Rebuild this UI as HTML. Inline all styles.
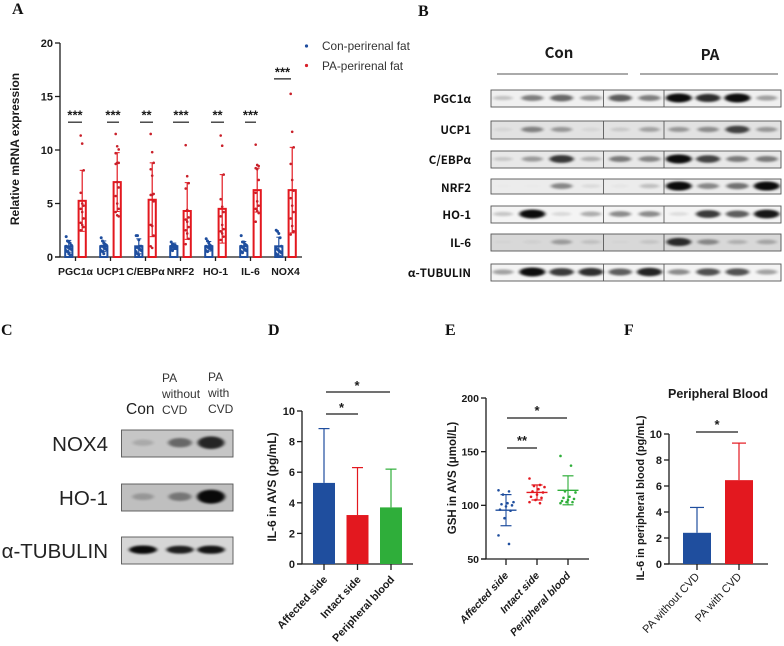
<!DOCTYPE html>
<html>
<head>
<meta charset="utf-8">
<title>Multi-panel figure</title>
<style>
html,body{margin:0;padding:0;background:#fff;width:784px;height:646px;overflow:hidden}
svg{display:block;filter:blur(.35px)}
text{font-family:"Liberation Sans","Noto Sans CJK KR",sans-serif;fill:#1a1a1a}
.letter{font-family:"Liberation Serif",serif;font-weight:bold;font-size:16px;fill:#111}
.blotlabel{font-family:"Noto Sans CJK KR","Liberation Sans",sans-serif;font-weight:700;font-size:11.5px;text-anchor:end;fill:#111}
.cl{fill:#222}
</style>
</head>
<body>
<svg id="fig" xmlns="http://www.w3.org/2000/svg" width="784" height="646" viewBox="0 0 784 646">
<defs>
<filter id="bandBlur" x="-50%" y="-100%" width="200%" height="300%"><feGaussianBlur stdDeviation="1.8 1"/></filter>
</defs>
<rect width="784" height="646" fill="#fff"/>

<text class="letter" x="12" y="14">A</text>
<text class="letter" x="418" y="16">B</text>
<text class="letter" x="1" y="335">C</text>
<text class="letter" x="268" y="335">D</text>
<text class="letter" x="445" y="335">E</text>
<text class="letter" x="624" y="335">F</text>

<text x="16" y="149" transform="rotate(-90 16 149)" text-anchor="middle" dominant-baseline="middle" font-size="12" font-weight="bold">Relative mRNA expression</text>
<circle cx="306.5" cy="46" r="1.6" fill="#1f4e9e"/>
<text x="322" y="50" font-size="11.8" style="fill:#333">Con-perirenal fat</text>
<circle cx="306.5" cy="65.5" r="1.6" fill="#d8202a"/>
<text x="322" y="70" font-size="11.8" style="fill:#333">PA-perirenal fat</text>

<text x="559" y="58" text-anchor="middle" font-size="15" font-weight="700" style="font-family:'Noto Sans CJK KR',sans-serif">Con</text>
<text x="710" y="60" text-anchor="middle" font-size="15" font-weight="700" style="font-family:'Noto Sans CJK KR',sans-serif">PA</text>
<line x1="497" y1="74" x2="628" y2="74" stroke="#555" stroke-width="1"/>
<line x1="640" y1="74" x2="778" y2="74" stroke="#555" stroke-width="1"/>

<text x="126" y="414" font-size="15.5" class="cl">Con</text>
<text font-size="12" class="cl" style="fill:#333"><tspan x="162" y="382">PA</tspan><tspan x="162" y="398">without</tspan><tspan x="162" y="414">CVD</tspan></text>
<text font-size="12" class="cl" style="fill:#333"><tspan x="208" y="381">PA</tspan><tspan x="208" y="397">with</tspan><tspan x="208" y="413">CVD</tspan></text>

<text x="273" y="487" transform="rotate(-90 273 487)" text-anchor="middle" dominant-baseline="middle" font-size="12" font-weight="bold">IL-6 in AVS (pg/mL)</text>
<text x="453" y="478" transform="rotate(-90 453 478)" text-anchor="middle" dominant-baseline="middle" font-size="11.5" font-weight="bold">GSH in AVS (μmol/L)</text>
<text x="641" y="498" transform="rotate(-90 641 498)" text-anchor="middle" dominant-baseline="middle" font-size="11" font-weight="bold">IL-6 in peripheral blood (pg/mL)</text>
<text x="718" y="398" text-anchor="middle" font-size="12.5" font-weight="bold">Peripheral Blood</text>
</svg>

<script>
// ---------- Panel A data ----------
const aCategories = ['PGC1α','UCP1','C/EBPα','NRF2','HO-1','IL-6','NOX4'];
const aTicks = [0,5,10,15,20];
const aConMeans = [1,1,1,1,1,1,1];
const aConSD = [0.55,0.5,0.7,0.3,0.45,0.45,0.85];
const aPaMeans = [5.25,7.0,5.35,4.3,4.5,6.25,6.25];
const aPaSD = [2.85,2.75,3.45,2.65,3.2,2.05,4.0];
const aSig = ['***','***','**','***','**','***','***'];
const aSigLevel = [12.6,12.6,12.6,12.6,12.6,12.6,16.65];
const aConPoints = [
 [1.9,1.5,1.4,1.3,1.1,1.0,0.9,0.9,0.8,0.7,0.6,0.5,0.3,0.2],
 [1.8,1.5,1.3,1.2,1.1,1.0,1.0,0.9,0.8,0.7,0.6,0.5,0.3],
 [2.0,2.0,1.6,1.0,1.0,0.9,0.9,0.8,0.7,0.6,0.5,0.3,0.2],
 [1.4,1.2,1.1,1.1,1.0,1.0,0.9,0.9,0.8,0.8,0.7,0.6],
 [1.7,1.5,1.3,1.1,1.0,1.0,0.9,0.9,0.8,0.7,0.6,0.5],
 [2.0,1.4,1.4,1.2,1.1,1.0,0.9,0.8,0.7,0.6,0.5,0.4],
 [2.5,2.4,2.2,1.8,1.0,0.9,0.7,0.6,0.5,0.4,0.3,0.2]
];
const aPaPoints = [
 [11.35,10.6,8.1,6.0,5.0,4.8,4.5,4.2,3.6,3.2,3.0,2.8,2.5],
 [11.5,10.35,10.05,9.7,8.8,8.8,8.7,7.0,6.5,5.7,5.0,4.5,4.2,3.9,3.8],
 [11.5,9.8,8.8,8.2,7.6,5.9,5.8,5.8,5.2,3.0,2.9,2.0,1.0,0.85],
 [10.45,7.55,6.9,6.4,4.4,3.7,3.5,3.3,2.8,2.5,2.2,1.7,1.2],
 [11.35,10.4,7.7,5.4,4.7,4.2,3.8,3.0,2.6,2.4,2.2,1.9,1.6],
 [10.5,8.6,8.5,8.3,8.2,7.2,6.0,5.2,4.8,4.5,4.3,4.1,3.3],
 [15.25,11.7,10.25,8.7,7.2,6.2,5.5,4.8,4.2,3.6,2.9,2.4,2.1]
];

// ---------- Panel D data ----------
const dCategories = ['Affected side','Intact side','Peripheral blood'];
const dMeans = [5.3,3.2,3.7];
const dUpper = [8.85,6.3,6.2];
const dTicks = [0,2,4,6,8,10];

// ---------- Panel E data ----------
const eCategories = ['Affected side','Intact side','Peripheral blood'];
const eMeans = [95.5,112,114];
const eSD = [14.5,7,13.5];
const eTicks = [50,100,150,200];
const ePoints = [
 [114,113,110,103,102,101,100,99,96,95,88,72,64],
 [125,119,118,117,115,113,112,110,108,107,105,103,102],
 [146,137,113,112,108,107,106,105,104,103,103,102]
];

// ---------- Panel F data ----------
const fCategories = ['PA without CVD','PA with CVD'];
const fMeans = [2.4,6.45];
const fUpper = [4.35,9.3];
const fTicks = [0,2,4,6,8,10];

// ---------- Blot band intensities ----------
const bRowLabels = ['PGC1α','UCP1','C/EBPα','NRF2','HO-1','IL-6','α-TUBULIN'];
const bRowBands = [
 [.2,.5,.6,.4,.65,.5,1,.85,1,.35],
 [.06,.45,.35,.06,.12,.3,.35,.4,.75,.35],
 [.15,.35,.8,.25,.5,.45,1,.75,.5,.5],
 [.01,.01,.45,.08,.03,.2,1,.45,.55,1],
 [.2,1,.12,.3,.45,.45,.1,.8,.65,.95],
 [.02,.04,.3,.12,.02,.1,.85,.4,.2,.25],
 [.35,1,.8,.85,.65,.9,.45,.7,.7,.35]
];
const bRowShades = ['#f0f0f0','#e2e2e2','#e8e8e8','#ececec','#f4f4f4','#d8d8d8','#f4f4f4'];
const cRowLabels = ['NOX4','HO-1','α-TUBULIN'];
const cRowBands = [[.15,.5,.85],[.22,.4,1],[1,.9,.95]];
const cRowShades = ['#c6c6c6','#bfbfbf','#d6d6d6'];

const svg = document.getElementById('fig');
const NS = 'http://www.w3.org/2000/svg';
const BLUE = '#1f4e9e', RED = '#e3181f', GREEN = '#2fae3a', INK = '#1c1c1c';

function mk(tag, attrs, text) {
  const n = document.createElementNS(NS, tag);
  for (const k in attrs) n.setAttribute(k, attrs[k]);
  if (text !== undefined) n.textContent = text;
  svg.appendChild(n);
  return n;
}
function axisLine(x1, y1, x2, y2, name, w) {
  const l = mk('line', {x1, y1, x2, y2, stroke: INK, 'stroke-width': w || 1.3});
  
  
  return l;
}
function colorLine(x1, y1, x2, y2, color, w, name) {
  const l = mk('line', {x1, y1, x2, y2, stroke: color, 'stroke-width': w});
  
  
  return l;
}
function yAxis(x, ticks, yf, size, name) {
  ticks.forEach(t => {
    axisLine(x - 5, yf(t), x, yf(t), name + '-tick');
    const lab = mk('text', {x: x - 7, y: yf(t) + size * 0.36, 'text-anchor': 'end', 'font-size': size, 'font-weight': 'bold'}, t);
    
    
  });
}
function sigMark(x1, x2, y, label, tx, ty, name) {
  axisLine(x1, y, x2, y, name + '-bracket', 1.2);
  const s = mk('text', {x: tx, y: ty, 'text-anchor': 'middle', 'font-size': 13, 'font-weight': 'bold'}, label);
  
  
}
function rotatedLabel(x, y, text, size, weight, style, name) {
  const t = mk('text', {x, y, transform: 'rotate(-47 ' + x + ' ' + y + ')', 'text-anchor': 'end', 'font-size': size, 'font-weight': weight, 'font-style': style}, text);
  
  
}

// ---------- Panel A ----------
const yA = v => 257 - v * 10.7;
const xA = i => 75.5 + 35 * i;
axisLine(60, yA(20), 60, yA(0), 'a-y-axis');
axisLine(55, yA(0), 302, yA(0), 'a-x-axis');
yAxis(60, aTicks, yA, 11, 'a-y');
const aSigX = [[68,82],[107,119],[140,153],[173,189],[211,224],[245,256],[274,291]];
aCategories.forEach((c, i) => {
  const cx = xA(i);
  axisLine(cx, 257, cx, 261, 'a-x-tick');
  const lab = mk('text', {x: cx, y: 275, 'text-anchor': 'middle', 'font-size': 10.5, 'font-weight': 'bold'}, c);
  
  

  const bx = cx - 6.7, rx = cx + 6.7;
  const conBar = mk('rect', {x: bx - 3.6, y: yA(aConMeans[i]), width: 7.2, height: 257 - yA(aConMeans[i]), fill: '#fff', stroke: BLUE, 'stroke-width': 2});
  
  
  const paBar = mk('rect', {x: rx - 3.6, y: yA(aPaMeans[i]), width: 7.2, height: 257 - yA(aPaMeans[i]), fill: '#fff', stroke: RED, 'stroke-width': 2});
  
  

  const cTop = aConMeans[i] + aConSD[i], cLow = aConMeans[i] - aConSD[i];
  colorLine(bx, yA(cTop), bx, yA(cLow), BLUE, 1.2, 'error-bar-con');
  colorLine(bx - 2.5, yA(cTop), bx + 2.5, yA(cTop), BLUE, 1, 'error-cap-con');
  colorLine(bx - 2.5, yA(cLow), bx + 2.5, yA(cLow), BLUE, 1, 'error-cap-con');
  const pTop = aPaMeans[i] + aPaSD[i], pLow = aPaMeans[i] - aPaSD[i];
  colorLine(rx, yA(pTop), rx, yA(pLow), RED, 1.2, 'error-bar-pa');
  colorLine(rx - 2.5, yA(pTop), rx + 2.5, yA(pTop), RED, 1, 'error-cap-pa');
  colorLine(rx - 2.5, yA(pLow), rx + 2.5, yA(pLow), RED, 1, 'error-cap-pa');

  aConPoints[i].forEach((v, j) => {
    const p = mk('circle', {cx: bx + ((j % 5) - 2) * 1.3, cy: yA(v), r: 1.5, fill: BLUE});
    
    
  });
  aPaPoints[i].forEach((v, j) => {
    const p = mk('circle', {cx: rx + ((j % 3) - 1) * 1.5, cy: yA(v), r: 1.3, fill: '#c9202a'});
    
    
  });
  const sy = yA(aSigLevel[i]);
  sigMark(aSigX[i][0], aSigX[i][1], sy, aSig[i], (aSigX[i][0] + aSigX[i][1]) / 2, sy - 2.5, 'a-sig-' + c);
});

// ---------- Blots ----------
function blotRow(x, y, w, h, shade, lanes, vals, rxBase, ryBase, dividers, name) {
  const base = mk('rect', {x, y, width: w, height: h, fill: shade});
  
  
  const clipId = 'clip-' + name;
  const cp = document.createElementNS(NS, 'clipPath');
  cp.setAttribute('id', clipId);
  const cr = document.createElementNS(NS, 'rect');
  cr.setAttribute('x', x); cr.setAttribute('y', y);
  cr.setAttribute('width', w); cr.setAttribute('height', h);
  cp.appendChild(cr);
  svg.appendChild(cp);
  const g = mk('g', {'clip-path': 'url(#' + clipId + ')'});
  
  
  vals.forEach((v, i) => {
    const e = document.createElementNS(NS, 'ellipse');
    e.setAttribute('cx', lanes(i));
    e.setAttribute('cy', y + h * 0.47);
    e.setAttribute('rx', rxBase * (0.7 + 0.3 * v));
    e.setAttribute('ry', ryBase * (0.35 + 0.65 * v));
    e.setAttribute('fill', '#000');
    e.setAttribute('opacity', Math.min(1, v * 0.95));
    e.setAttribute('filter', 'url(#bandBlur)');
    
    
    g.appendChild(e);
  });
  dividers.forEach(dx => {
    const d = mk('line', {x1: dx, y1: y, x2: dx, y2: y + h, stroke: '#333', 'stroke-width': .7});
    
    
  });
  const frame = mk('rect', {x, y, width: w, height: h, fill: 'none', stroke: '#555', 'stroke-width': .9});
  
  
}
const bLane = i => 503 + i * 29.3;
const bRowTop = [90, 121, 151, 179, 206, 234, 264];
const bRowHeight = [17, 18, 17, 15, 17, 17, 17];
bRowLabels.forEach((lab, i) => {
  const rowY = bRowTop[i];
  blotRow(491, rowY, 290, bRowHeight[i], bRowShades[i], bLane, bRowBands[i], 13, 4.5, [603.5, 664], 'b-blot-' + i);
  const t = mk('text', {x: 471, y: rowY + 13, class: 'blotlabel'}, lab);
  
  
});
const cLanes = [143, 180, 211];
const cLane = i => cLanes[i];
const cRowY = [430, 484, 537];
const cRyBase = [7, 7, 4.2];
cRowLabels.forEach((lab, i) => {
  blotRow(121.5, cRowY[i], 111.5, 27, cRowShades[i], cLane, cRowBands[i], 14, cRyBase[i], [], 'c-blot-' + i);
  const t = mk('text', {x: 108, y: cRowY[i] + 21, 'text-anchor': 'end', 'font-size': 20.5, class: 'cl'}, lab);
  
  
});

// ---------- Panel D ----------
const yD = v => 564 - v * 15.3;
const xD = i => 324 + i * 33.5;
const dColors = [BLUE, RED, GREEN];
axisLine(302, yD(10), 302, yD(0), 'd-y-axis');
axisLine(297, yD(0), 413, yD(0), 'd-x-axis');
yAxis(302, dTicks, yD, 11, 'd-y');
dCategories.forEach((c, i) => {
  const x = xD(i);
  const b = mk('rect', {x: x - 11, y: yD(dMeans[i]), width: 22, height: 564 - yD(dMeans[i]), fill: dColors[i]});
  
  
  colorLine(x, yD(dUpper[i]), x, yD(dMeans[i]), dColors[i], 1.2, 'error-bar-d');
  colorLine(x - 5.5, yD(dUpper[i]), x + 5.5, yD(dUpper[i]), dColors[i], 1.2, 'error-cap-d');
  axisLine(x, 564, x, 570, 'd-x-tick');
  rotatedLabel(x + 4, 580, c, 10.8, 'bold', 'normal', 'd-x-tick-label');
});
sigMark(326, 390, 392, '*', 357, 390, 'd-sig-wide');
sigMark(326, 358, 414, '*', 341.5, 412, 'd-sig-narrow');

// ---------- Panel E ----------
const yE = v => 559 - (v - 50) * 1.0733;
const xE = i => 506 + i * 31;
axisLine(486, yE(200), 486, yE(50), 'e-y-axis');
axisLine(481, yE(50), 589, yE(50), 'e-x-axis');
yAxis(486, eTicks, yE, 10.5, 'e-y');
eCategories.forEach((c, i) => {
  const x = xE(i), col = dColors[i];
  ePoints[i].forEach((v, j) => {
    const p = mk('circle', {cx: x + ((j * 7) % 11 - 5) * 1.5, cy: yE(v), r: 1.3, fill: col});
    
    
  });
  colorLine(x - 10.5, yE(eMeans[i]), x + 10.5, yE(eMeans[i]), col, 1.3, 'mean-line-e');
  const top = eMeans[i] + eSD[i], low = eMeans[i] - eSD[i];
  colorLine(x, yE(top), x, yE(low), col, 1.1, 'error-bar-e');
  colorLine(x - 5.5, yE(top), x + 5.5, yE(top), col, 1.2, 'error-cap-e');
  colorLine(x - 5.5, yE(low), x + 5.5, yE(low), col, 1.2, 'error-cap-e');
  axisLine(x, 559, x, 565, 'e-x-tick');
  rotatedLabel(x + 3, 576, c, 10.5, 'bold', 'italic', 'e-x-tick-label');
});
sigMark(507, 567, 418, '*', 537, 415, 'e-sig-wide');
sigMark(507, 537, 448, '**', 522, 445, 'e-sig-narrow');

// ---------- Panel F ----------
const yF = v => 564 - v * 13;
const xF = i => 697 + i * 42;
const fColors = [BLUE, RED];
axisLine(669, yF(10), 669, yF(0), 'f-y-axis');
axisLine(664, yF(0), 768, yF(0), 'f-x-axis');
yAxis(669, fTicks, yF, 11, 'f-y');
fCategories.forEach((c, i) => {
  const x = xF(i);
  const b = mk('rect', {x: x - 14, y: yF(fMeans[i]), width: 28, height: 564 - yF(fMeans[i]), fill: fColors[i]});
  
  
  colorLine(x, yF(fUpper[i]), x, yF(fMeans[i]), fColors[i], 1.2, 'error-bar-f');
  colorLine(x - 7, yF(fUpper[i]), x + 7, yF(fUpper[i]), fColors[i], 1.2, 'error-cap-f');
  axisLine(x, 564, x, 570, 'f-x-tick');
  rotatedLabel(x + 3, 577, c, 11, 'normal', 'normal', 'f-x-tick-label');
});
sigMark(696, 738, 432, '*', 717, 429, 'f-sig');
</script>
</body>
</html>
